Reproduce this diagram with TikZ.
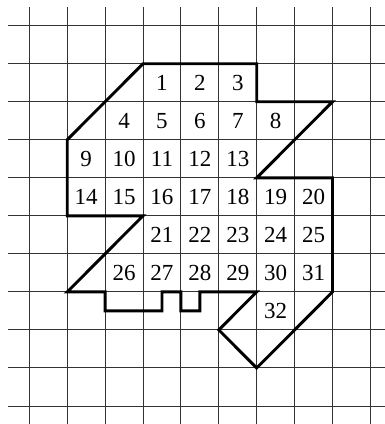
\documentclass[tikz,border=0pt]{standalone}
\usepackage{fontspec}
\setmainfont{Liberation Serif}
\begin{document}
\begin{tikzpicture}[x=1pt,y=-1pt,
  gridline/.style={black!80,line width=1pt},
  outline/.style={black,line width=2.9pt,line join=miter},
  num/.style={inner sep=0pt,font=\fontsize{23}{27}\selectfont}]
\useasboundingbox (0,0) rectangle (385,424);
\begin{scope}[shift={(29.3,25.7)},x=37.9pt,y=-38.03pt]
  % grid
  \foreach \i in {0,...,9} \draw[gridline] (\i,-0.484) -- (\i,10.47);
  \foreach \j in {0,...,10} \draw[gridline] (-0.554,\j) -- (9.385,\j);
  % outline
  \draw[outline] (3,1) -- (6,1) -- (6,2) -- (8,2) -- (6,4) -- (8,4) -- (8,7)
    -- (6,9) -- (5,8) -- (6,7) -- (4.5,7) -- (4.5,7.5) -- (4,7.5) -- (4,7)
    -- (3.5,7) -- (3.5,7.5) -- (2,7.5) -- (2,7) -- (1,7) -- (3,5) -- (1,5)
    -- (1,3) -- cycle;
  % numbers
  \foreach \n/\i/\j in {1/3/1,2/4/1,3/5/1,
     4/2/2,5/3/2,6/4/2,7/5/2,8/6/2,
     9/1/3,10/2/3,11/3/3,12/4/3,13/5/3,
     14/1/4,15/2/4,16/3/4,17/4/4,18/5/4,19/6/4,20/7/4,
     21/3/5,22/4/5,23/5/5,24/6/5,25/7/5,
     26/2/6,27/3/6,28/4/6,29/5/6,30/6/6,31/7/6,
     32/6/7}
    \node[num] (n\n) at (\i+0.5,\j+0.5) {\n};
\end{scope}
\end{tikzpicture}
\end{document}
